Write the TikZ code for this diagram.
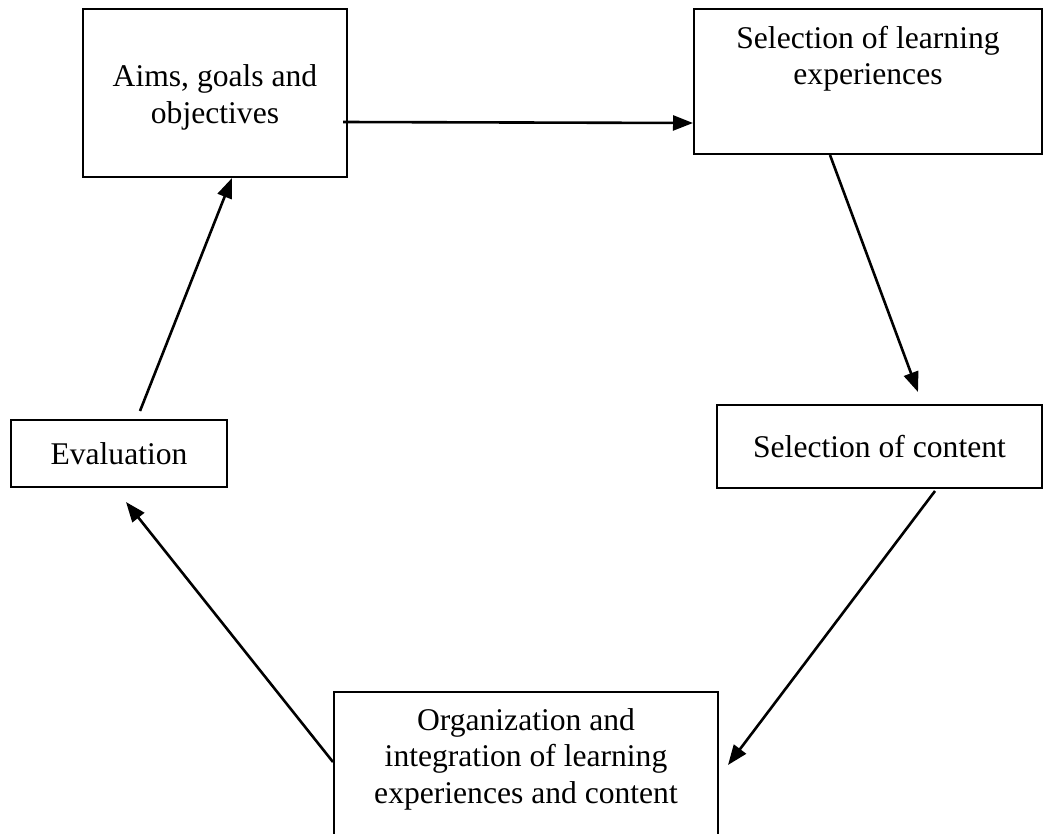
\documentclass[tikz,border=0pt]{standalone}
\usepackage{fontspec}
\setmainfont{Liberation Serif}
\usetikzlibrary{arrows.meta}
\begin{document}
\begin{tikzpicture}[x=1pt,y=-1pt,
  box/.style={draw,line width=2pt,inner sep=0pt},
  txt/.style={align=center,font=\fontsize{31.6}{36.5}\selectfont,inner sep=0pt},
  conn/.style={line width=2.6pt,-{Triangle[length=20pt,width=15pt]}}]
\useasboundingbox (0,0) rectangle (1047,833);
\clip (0,0) rectangle (1047,833);
\fill[white] (0,0) rectangle (1047,833);
% boxes
\node[box,minimum width=264pt,minimum height=168pt] (b1) at (215,93) {};
\node[txt] (t1) at (215,97.5) {Aims, goals and\\objectives};
\node[box,minimum width=348pt,minimum height=145pt] (b2) at (868,81.5) {};
\node[txt] (t2) at (868,58.5) {Selection of learning\\experiences};
\node[box,txt,minimum width=325pt,minimum height=83pt] (b3) at (879.5,446.5) {Selection of content};
\node[box,txt,minimum width=216pt,minimum height=67pt] (ev) at (119,453.5) {Evaluation};
\node[box,minimum width=384pt,minimum height=153pt] (b5) at (526,768.5) {};
\node[txt] (t5) at (526,759) {Organization and\\integration of learning\\experiences and content};
% connectors
\draw[conn] ([xshift=-5pt,yshift=-29pt]b1.east) -- ([yshift=-41.5pt]b2.west);
\draw[conn] ([xshift=-38pt]b2.south) -- ([xshift=38.5pt,yshift=12pt]b3.north);
\draw[conn] ([xshift=55.5pt,yshift=-2pt]b3.south) -- ([xshift=9pt,yshift=3.5pt]b5.east);
\draw[conn] ([yshift=6.5pt]b5.west) -- ([xshift=7pt,yshift=-14pt]ev.south);
\draw[conn] ([xshift=21pt,yshift=8pt]ev.north) -- ([xshift=17pt]b1.south);
\end{tikzpicture}
\end{document}
